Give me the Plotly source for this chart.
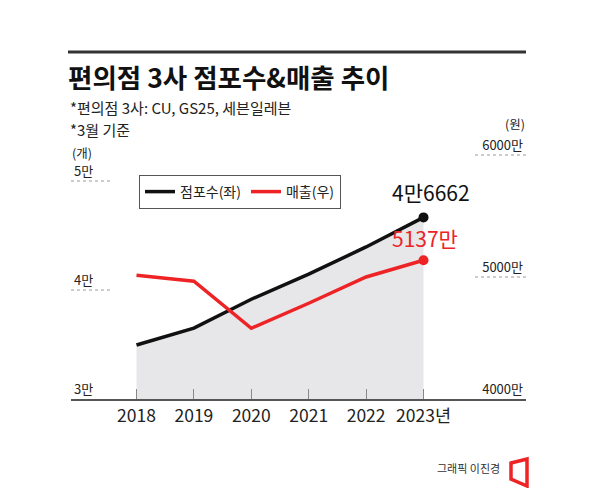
import plotly.graph_objects as go

years = [2018, 2019, 2020, 2021, 2022, 2023]
year_labels = ["2018", "2019", "2020", "2021", "2022", "2023년"]
stores = [34950, 36500, 39150, 41450, 43950, 46662]      # 점포수 (개)
sales = [5015, 4965, 4580, 4785, 5000, 5137]              # 매출 (만원)
left_ticks = [30000, 40000, 50000]
left_ticktext = ["3만", "4만", "5만"]
right_ticks = [4000, 5000, 6000]
right_ticktext = ["4000만", "5000만", "6000만"]

FONT = "Noto Sans CJK KR"
RED = "#ee2326"
W, H = 600, 488
L, R, T, B = 71, 74, 110, 89
PW, PH = W - L - R, H - T - B


def px(x):
    return (x - L) / PW


def py(y):
    return (H - B - y) / PH


fig = go.Figure()
fig.add_trace(go.Scatter(x=years, y=stores, fill="tozeroy", fillcolor="#e7e7e9",
                         mode="none", showlegend=False, hoverinfo="skip", yaxis="y"))
fig.add_trace(go.Scatter(x=years, y=sales, mode="lines", name="매출(우)",
                         line=dict(color=RED, width=3.5), yaxis="y2"))
fig.add_trace(go.Scatter(x=years, y=stores, mode="lines", name="점포수(좌)",
                         line=dict(color="#111111", width=3.5), yaxis="y"))
fig.add_trace(go.Scatter(x=years[-1:], y=sales[-1:], mode="markers", showlegend=False,
                         marker=dict(color=RED, size=10), yaxis="y2"))
fig.add_trace(go.Scatter(x=years[-1:], y=stores[-1:], mode="markers", showlegend=False,
                         marker=dict(color="#111111", size=10), yaxis="y"))

x0 = 2018 - (136.5 - L) / 57.4
x1 = 2023 + (W - R - 423.5) / 57.4
y_top_left = 30000 + PH / 109 * 10000
y_top_right = 4000 + PH / 122 * 1000

shapes = []
for v in left_ticks[1:]:
    shapes.append(dict(type="line", xref="paper", yref="y", x0=0, x1=px(110), y0=v, y1=v,
                       line=dict(color="#9a9a9a", width=1, dash="dot")))
for v in right_ticks[1:]:
    shapes.append(dict(type="line", xref="paper", yref="y2", x0=px(475), x1=1, y0=v, y1=v,
                       line=dict(color="#9a9a9a", width=1, dash="dot")))
# top rule
shapes.append(dict(type="line", xref="paper", yref="paper", x0=px(68), x1=px(526),
                   y0=py(52), y1=py(52), line=dict(color="#333333", width=3)))
# logo
logo = "M {} {} L {} {} L {} {} L {} {} Z".format(px(511), py(463), px(527), py(459),
                                                 px(527), py(486), px(511), py(479))
shapes.append(dict(type="path", xref="paper", yref="paper", path=logo,
                   line=dict(color=RED, width=3.5), fillcolor="rgba(0,0,0,0)"))

annotations = [
    dict(text="<b>편의점 3사 점포수&매출 추이</b>", x=px(66), y=py(76), xref="paper", yref="paper",
         xanchor="left", yanchor="middle", showarrow=False, font=dict(size=26.5, color="#111111")),
    dict(text="*편의점 3사: CU, GS25, 세븐일레븐", x=px(68), y=py(107), xref="paper", yref="paper",
         xanchor="left", yanchor="middle", showarrow=False, font=dict(size=15, color="#222222")),
    dict(text="*3월 기준", x=px(68), y=py(129), xref="paper", yref="paper",
         xanchor="left", yanchor="middle", showarrow=False, font=dict(size=15, color="#222222")),
    dict(text="(개)", x=px(70), y=py(152), xref="paper", yref="paper",
         xanchor="left", yanchor="middle", showarrow=False, font=dict(size=12.5, color="#222222")),
    dict(text="(원)", x=px(527), y=py(123), xref="paper", yref="paper",
         xanchor="right", yanchor="middle", showarrow=False, font=dict(size=12.5, color="#222222")),
    dict(text="4만6662", x=years[-1], y=stores[-1], xref="x", yref="y",
         xanchor="center", yanchor="bottom", xshift=7, yshift=8, showarrow=False,
         font=dict(size=21, color="#111111")),
    dict(text="5137만", x=years[-1], y=sales[-1], xref="x", yref="y2",
         xanchor="center", yanchor="bottom", xshift=1, yshift=5, showarrow=False,
         font=dict(size=21, color=RED)),
    dict(text="그래픽 이진경", x=px(502), y=py(468), xref="paper", yref="paper",
         xanchor="right", yanchor="middle", showarrow=False, font=dict(size=11, color="#333333")),
]

fig.update_layout(
    width=W, height=H,
    margin=dict(l=L, r=R, t=T, b=B, pad=0),
    paper_bgcolor="white", plot_bgcolor="white",
    font=dict(family=FONT, color="#222222"),
    xaxis=dict(range=[x0, x1], tickvals=years, ticktext=year_labels, showgrid=False,
               zeroline=False, showline=True, linecolor="#555555", linewidth=2,
               ticks="inside", ticklen=10, tickcolor="#888888", tickwidth=1,
               tickfont=dict(size=17.5, color="#222222")),
    yaxis=dict(range=[30000, y_top_left], tickvals=left_ticks, ticktext=left_ticktext,
               showgrid=False, zeroline=False, showline=False, ticks="",
               ticklabelposition="inside top", tickfont=dict(size=13, color="#222222")),
    yaxis2=dict(range=[4000, y_top_right], tickvals=right_ticks, ticktext=right_ticktext,
                overlaying="y", side="right", showgrid=False, zeroline=False, showline=False,
                ticks="", ticklabelposition="inside top", tickfont=dict(size=13, color="#222222")),
    legend=dict(x=px(139), y=py(175), xanchor="left", yanchor="top", orientation="h",
                bgcolor="white", bordercolor="#555555", borderwidth=1,
                font=dict(size=14, color="#222222"), traceorder="reversed"),
    shapes=shapes, annotations=annotations, showlegend=True,
)

fig.write_html("out.html", config={"displayModeBar": False},
               post_script="document.body.style.margin='0';document.body.style.overflow='hidden';")
